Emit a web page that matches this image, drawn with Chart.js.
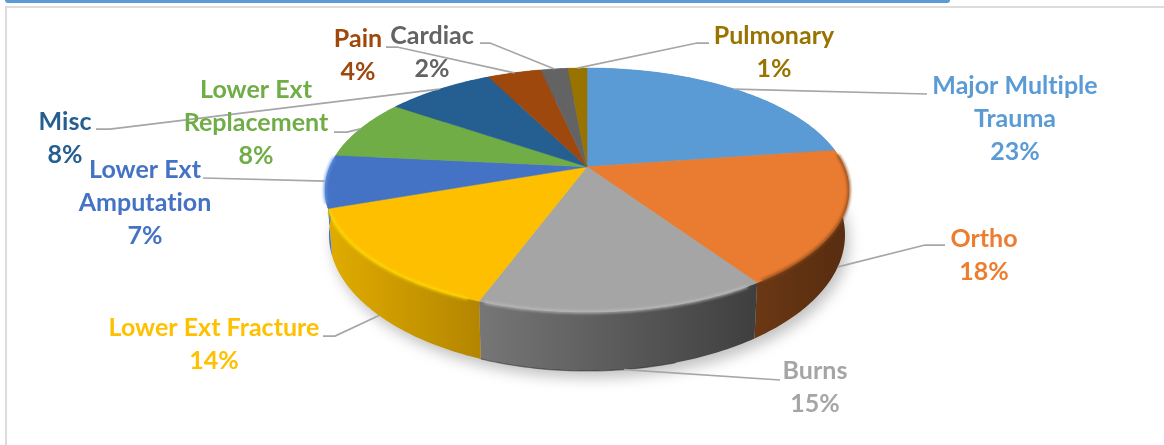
<!DOCTYPE html>
<html>
<head>
<meta charset="utf-8">
<title>Pie</title>
<script src="https://cdn.jsdelivr.net/npm/chart.js@4"></script>
<style>
html, body { margin: 0; padding: 0; background: #fff; overflow: hidden; }
#topbar { position: absolute; left: 5px; top: 0; width: 945px; height: 3px; background: #5b9bd5; border-radius: 0 0 8px 8px; }
#frame { position: absolute; left: 5px; top: 6px; right: 0; bottom: 0; border-top: 2px solid #dcdcdc; border-left: 2px solid #dcdcdc; }
#overview { position: absolute; left: 0; top: 0; }
</style>
</head>
<body>
<div id="topbar"></div>
<div id="frame"></div>
<canvas id="overview" width="1164" height="445"></canvas>
<script>
/* globals Chart: false */

var categories = [
    ["Major Multiple", "Trauma"],
    ["Ortho"],
    ["Burns"],
    ["Lower Ext Fracture"],
    ["Lower Ext", "Amputation"],
    ["Lower Ext", "Replacement"],
    ["Misc"],
    ["Pain"],
    ["Cardiac"],
    ["Pulmonary"]
];
// the labels show these rounded
var percentages = [22.7, 17.9, 15, 14, 7, 8, 8, 4, 2, 1.4];

var sliceColors = ["#5b9bd5", "#e97c30", "#a5a5a5", "#fdbf00", "#4472c4", "#70ad47", "#255e91", "#9e480e", "#636363", "#997300"];
var textColors = ["#5b9bd5", "#ed7d31", "#a5a5a5", "#ffc000", "#4472c4", "#70ad47", "#255e91", "#9e480e", "#636363", "#997300"];
var wallLeft = ["#4a7fb0", "#6b3814", "#767676", "#dfab00", "#3f70c6", "#5a8a39", "#1e4c75", "#7e390b", "#505050", "#7a5c00"];
var wallRight = ["#4a7fb0", "#5a2e10", "#3f3f3f", "#b38500", "#3a66b0", "#5a8a39", "#1e4c75", "#7e390b", "#505050", "#7a5c00"];
var rimColors = [null, "#8a481a", "#bcbcbc", "#ffdc00", "#5f92e6", null, null, null, null, null];

// label centre x, first line middle y, then the bend and end of the leader line
var labelX = [1015, 984, 815, 214, 145, 256, 65, 358, 432, 774];
var labelY = [86, 239, 371, 328, 170, 90, 122, 39, 36, 36];
var leaderEnds = [
    [[927, 94]],
    [[925, 245], [945, 245]],
    [[780, 380]],
    [[335, 336], [323, 336]],
    [[203, 178]],
    [[347, 132], [334, 132]],
    [[110, 129], [96, 129]],
    [[397, 47], [386, 47]],
    [[490, 43], [480, 43]],
    [[697, 43], [709, 43]]
];

var LINE_HEIGHT = 33;
var SQUASH_TOP = 262 / 122;
var SQUASH_BOTTOM = 258 / 122;
var STRETCH_BOTTOM = 136 / 122;
var DROP = 45;
var TILT = 0.19;   // perspective pull of the pie centre toward the back

// angle of an arc on the flat circle -> point on the tilted top or bottom outline
function project(arc, angle, bottom) {
    var u = Math.cos(angle);
    var v = -Math.sin(angle);
    var den = 1 + TILT * v;
    var pu = u * Math.sqrt(1 - TILT * TILT) / den;
    var pv = (v + TILT) / den;
    var r = arc.outerRadius;
    if (bottom) {
        return { x: arc.x + pu * r * SQUASH_BOTTOM, y: arc.y + DROP - pv * r * STRETCH_BOTTOM, front: pv };
    }
    return { x: arc.x + pu * r * SQUASH_TOP, y: arc.y - pv * r, front: pv };
}

function tracePath(ctx, arc, from, to, bottom, move) {
    var steps = Math.max(4, Math.ceil(Math.abs(to - from) * 60));
    for (var s = 0; s <= steps; s++) {
        var p = project(arc, from + (to - from) * s / steps, bottom);
        if (s === 0 && move) {
            ctx.moveTo(p.x, p.y);
        } else {
            ctx.lineTo(p.x, p.y);
        }
    }
}

var pie3d = {
    id: "pie3d",
    beforeDatasetDraw: function(chart) {
        var ctx = chart.ctx;
        var arcs = chart.getDatasetMeta(0).data;
        var whole = arcs[0];
        var full = Math.PI * 2;

        // soft shadow under the disc
        ctx.save();
        ctx.filter = "blur(7px)";
        ctx.fillStyle = "rgba(0,0,0,0.24)";
        ctx.beginPath();
        ctx.translate(4, 7);
        tracePath(ctx, whole, 0, full, true, true);
        ctx.closePath();
        ctx.fill();
        ctx.restore();

        // side walls
        arcs.forEach(function(arc, i) {
            var a = project(arc, arc.startAngle, true);
            var b = project(arc, arc.endAngle, true);
            var grad = ctx.createLinearGradient(Math.min(a.x, b.x), 0, Math.max(a.x, b.x) + 1, 0);
            grad.addColorStop(0, wallLeft[i]);
            grad.addColorStop(1, wallRight[i]);
            ctx.beginPath();
            tracePath(ctx, arc, arc.startAngle, arc.endAngle, false, true);
            tracePath(ctx, arc, arc.endAngle, arc.startAngle, true, false);
            ctx.closePath();
            ctx.fillStyle = grad;
            ctx.fill();
        });

        // dark foot of the wall under the grey slice
        ctx.save();
        ctx.filter = "blur(0.7px)";
        ctx.strokeStyle = "rgba(30,30,30,0.45)";
        ctx.lineWidth = 1.2;
        ctx.beginPath();
        tracePath(ctx, whole, arcs[2].startAngle + 0.3, arcs[2].endAngle, true, true);
        ctx.stroke();
        ctx.restore();

        // top surface, every slice runs centre -> rim
        arcs.forEach(function(arc, i) {
            var c = { x: arc.x, y: arc.y - TILT * arc.outerRadius };
            ctx.beginPath();
            ctx.moveTo(c.x, c.y);
            tracePath(ctx, arc, arc.startAngle, arc.endAngle, false, false);
            ctx.closePath();
            ctx.fillStyle = sliceColors[i];
            ctx.strokeStyle = sliceColors[i];
            ctx.lineWidth = 0.5;
            ctx.fill();
            ctx.stroke();
        });

        // bevel along the front of the rim
        arcs.forEach(function(arc, i) {
            if (!rimColors[i]) {
                return;
            }
            ctx.save();
            ctx.filter = "blur(1.4px)";
            ctx.strokeStyle = rimColors[i];
            ctx.lineWidth = 2.5;
            ctx.beginPath();
            tracePath(ctx, arc, arc.startAngle + 0.04, arc.endAngle - 0.02, false, true);
            ctx.stroke();
            ctx.restore();
        });

        return false;
    },
    afterDatasetsDraw: function(chart) {
        var ctx = chart.ctx;
        var arcs = chart.getDatasetMeta(0).data;

        // leader lines start at the middle of the slice, on the top rim at the back, wall foot at the front
        arcs.forEach(function(arc, i) {
            var mid = (arc.startAngle + arc.endAngle) / 2;
            var start = project(arc, mid, false);
            if (start.front < 0) {
                start = project(arc, mid, true);
            }
            ctx.beginPath();
            ctx.moveTo(start.x, start.y);
            leaderEnds[i].forEach(function(p) {
                ctx.lineTo(p[0], p[1]);
            });
            ctx.strokeStyle = "#a6a6a6";
            ctx.lineWidth = 1.75;
            ctx.stroke();
        });

        ctx.font = "bold 25px Lato";
        ctx.letterSpacing = "0.01px";   // keeps Lato from joining the "ti" in Amputation
        ctx.textAlign = "center";
        ctx.textBaseline = "middle";
        categories.forEach(function(lines, i) {
            ctx.fillStyle = textColors[i];
            var y = labelY[i];
            lines.forEach(function(line) {
                ctx.fillText(line, labelX[i], y);
                y += LINE_HEIGHT;
            });
            ctx.fillText(Math.round(percentages[i]) + "%", labelX[i], y);
        });
    }
};

var config = {
    type: "pie",
    data: {
        labels: categories.map(function(c) { return c.join(" "); }),
        datasets: [
            {
                data: percentages,
                backgroundColor: sliceColors,
                borderWidth: 0,
                hoverOffset: 0
            }
        ]
    },
    options: {
        responsive: false,
        animation: false,
        layout: { padding: { left: 465, right: 455, top: 68, bottom: 133 } },
        plugins: {
            legend: { display: false },
            tooltip: { enabled: false }
        }
    },
    plugins: [pie3d]
};

var ctx = document.getElementById("overview").getContext("2d");
var myNewChart = new Chart(ctx, config);
</script>
</body>
</html>
